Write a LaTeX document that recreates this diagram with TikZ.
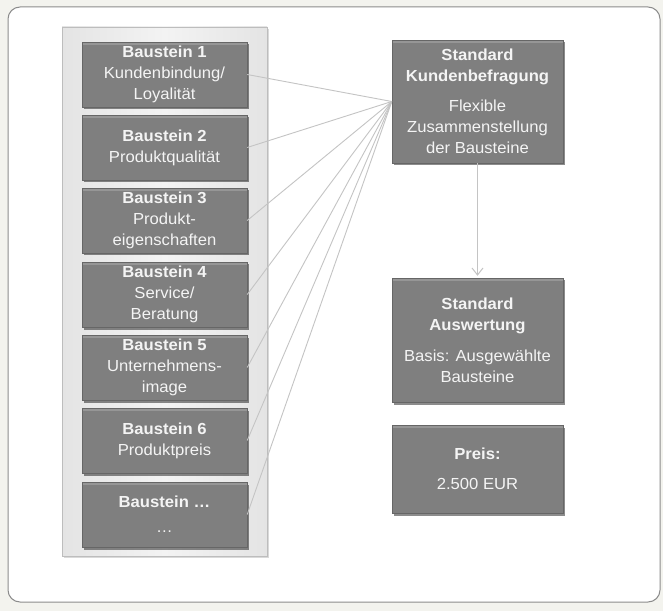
\documentclass[tikz,border=0pt]{standalone}
\usepackage{fontspec}
\setmainfont{Liberation Sans}[FakeStretch=1.04]
\usetikzlibrary{shadows,arrows.meta}
\definecolor{pagebg}{HTML}{F3F3EE}
\definecolor{framec}{HTML}{8C8C8C}
\definecolor{boxgray}{HTML}{7F7F7F}
\definecolor{boxtext}{HTML}{F4F4F4}
\definecolor{linec}{HTML}{C4C4C4}
\definecolor{panelc}{HTML}{E4E4E4}
\definecolor{panelmid}{HTML}{F3F3F3}
\definecolor{panelborder}{HTML}{BDBDBD}
\tikzset{
  x=1pt, y=1pt,
  graybox/.style={fill=boxgray, draw=boxgray!80!black, line width=0.4pt, text=boxtext, align=center, inner sep=0pt,
    font=\fontsize{16}{21}\selectfont,
    drop shadow={shadow xshift=1.5pt, shadow yshift=-2.5pt, fill=black, opacity=0.45},
    path picture={\fill[white, opacity=0.18] (path picture bounding box.north west) rectangle ([yshift=-3pt]path picture bounding box.north east);}},
  baustein/.style={graybox, minimum width=165pt, minimum height=65pt},
  rightbox/.style={graybox, minimum width=171pt},
  fanline/.style={draw=linec, line width=0.9pt},
  arrowline/.style={draw=linec, line width=1pt, -{Straight Barb[length=7pt,width=11pt]}},
}
\begin{document}
\begin{tikzpicture}
\useasboundingbox (0,0) rectangle (663,611);
\fill[pagebg] (0,0) rectangle (663,611);
\draw[framec, fill=white, line width=1pt, rounded corners=12pt] (8,9) rectangle (660,604);
% left panel
\path[draw=panelborder, line width=0.8pt, left color=panelc, right color=panelc, middle color=panelmid,
  drop shadow={shadow xshift=1.5pt, shadow yshift=-2pt, fill=black, opacity=0.15}]
  (62,55) rectangle (267,584);
% left boxes
\node[baustein] (b1) at (164.5,536.5) {\textbf{Baustein 1}\\Kundenbindung/\\Loyalität};
\node[baustein] (b2) at (164.5,463.5) {\textbf{Baustein 2}\\Produktqualität};
\node[baustein] (b3) at (164.5,390.5) {\textbf{Baustein 3}\\Produkt-\\eigenschaften};
\node[baustein] (b4) at (164.5,316.5) {\textbf{Baustein 4}\\Service/\\Beratung};
\node[baustein] (b5) at (164.5,243.5) {\textbf{Baustein 5}\\Unternehmens-\\image};
\node[baustein] (b6) at (164.5,170.5) {\textbf{Baustein 6}\\Produktpreis};
\node[baustein] (b7) at (164.5,96.5) {\textbf{Baustein …}\\[4pt]…};
% right boxes
\node[rightbox, minimum height=123pt] (k) at (477.5,509.5)
  {\textbf{Standard}\\\textbf{Kundenbefragung}\\[9pt]Flexible\\Zusammenstellung\\der Bausteine};
\node[rightbox, minimum height=124pt] (a) at (477.5,271)
  {\textbf{Standard}\\\textbf{Auswertung}\\[10pt]Basis: Ausgewählte\\Bausteine};
\node[rightbox, minimum height=88pt] (p) at (477.5,142)
  {\textbf{Preis:}\\[9pt]2.500 EUR};
% connectors
\foreach \b in {b1,b2,b3,b4,b5,b6,b7}{
  \draw[fanline] (\b.east) -- (k.west);
}
\draw[arrowline] (k.south) -- ([yshift=2pt]a.north);
\end{tikzpicture}
\end{document}
